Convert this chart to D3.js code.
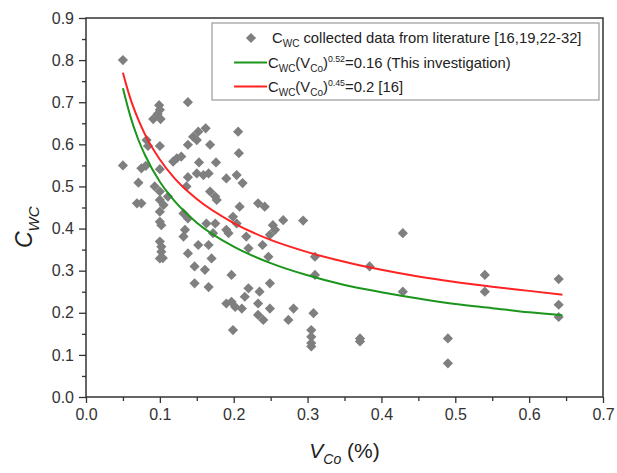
<!DOCTYPE html>
<html>
<head>
<meta charset="utf-8">
<script src="https://cdn.jsdelivr.net/npm/d3@7"></script>
<style>
  body { margin: 0; background: #fff; }
  svg { font-family: "Liberation Sans", Arial, sans-serif; }
</style>
</head>
<body>
<div id="chart"></div>
<script>
// scatter: V_Co (%) and C_WC
var vco = [0.050,0.050,0.099,0.100,0.097,0.091,0.101,0.138,0.206,0.207,0.162,0.152,0.145,0.150,0.168,0.138,
  0.082,0.084,0.100,0.123,0.129,0.118,0.153,0.176,0.075,0.081,0.100,0.150,0.159,0.166,0.138,0.190,0.204,
  0.212,0.071,0.093,0.100,0.111,0.136,0.168,0.175,0.069,0.075,0.100,0.105,0.208,0.233,0.100,0.177,0.242,
  0.199,0.132,0.138,0.163,0.175,0.100,0.102,0.134,0.132,0.100,0.102,0.102,0.100,0.104,0.138,0.152,0.166,
  0.170,0.147,0.161,0.147,0.166,0.197,0.172,0.190,0.204,0.217,0.220,0.190,0.197,0.202,0.211,0.199,0.220,
  0.215,0.233,0.233,0.193,0.253,0.256,0.267,0.294,0.249,0.239,0.247,0.249,0.235,0.249,0.281,0.308,0.240,
  0.274,0.305,0.305,0.305,0.305,0.371,0.371,0.310,0.310,0.384,0.429,0.429,0.540,0.540,0.640,0.640,0.640,
  0.490,0.490];
var cwc = [0.800,0.550,0.693,0.682,0.672,0.660,0.660,0.700,0.630,0.579,0.638,0.630,0.618,0.610,0.599,0.599,
  0.610,0.596,0.596,0.567,0.571,0.559,0.557,0.557,0.543,0.549,0.541,0.531,0.527,0.531,0.522,0.519,0.527,
  0.508,0.509,0.500,0.488,0.476,0.500,0.488,0.476,0.460,0.460,0.468,0.456,0.452,0.460,0.440,0.468,0.452,
  0.428,0.436,0.424,0.412,0.412,0.416,0.408,0.397,0.381,0.369,0.357,0.345,0.329,0.330,0.341,0.361,0.361,
  0.329,0.310,0.302,0.270,0.261,0.290,0.389,0.397,0.412,0.381,0.353,0.222,0.226,0.214,0.210,0.159,0.258,
  0.238,0.222,0.195,0.389,0.408,0.397,0.420,0.419,0.385,0.361,0.333,0.270,0.250,0.210,0.210,0.199,0.183,
  0.183,0.159,0.143,0.128,0.120,0.139,0.132,0.333,0.290,0.310,0.389,0.250,0.290,0.250,0.280,0.219,0.190,
  0.139,0.080];

// fitted curves, values
var curveV = [0.05,0.06,0.07,0.08,0.10,0.12,0.15,0.20,0.25,0.30,0.35,0.40,0.45,0.50,0.55,0.60,0.645];
var greenC = [0.733,0.667,0.615,0.574,0.511,0.465,0.414,0.357,0.318,0.289,0.266,0.249,0.234,0.221,0.211,0.201,0.194];
var redC   = [0.770,0.709,0.662,0.623,0.564,0.519,0.470,0.413,0.373,0.344,0.321,0.302,0.286,0.273,0.262,0.252,0.243];

var xMajor = [0,0.1,0.2,0.3,0.4,0.5,0.6,0.7];
var xMinor = [0.05,0.15,0.25,0.35,0.45,0.55,0.65];
var yMajor = [0,0.1,0.2,0.3,0.4,0.5,0.6,0.7,0.8,0.9];
var yMinor = [0.05,0.15,0.25,0.35,0.45,0.55,0.65,0.75,0.85];

var W = 617, H = 473;
var plotL = 86, plotR = 603, plotT = 18, plotB = 397;
var axisColor = "#333";

var svg = d3.select("#chart").append("svg")
    .attr("width", W)
    .attr("height", H);

var x = d3.scaleLinear().domain([0, 0.7]).range([plotL, plotR]);
var y = d3.scaleLinear().domain([0, 0.9]).range([plotB, plotT]);

// axes
var fmt = d3.format(".1f");
var gx = svg.append("g").attr("transform", "translate(0," + plotB + ")")
    .call(d3.axisBottom(x).tickValues(xMajor).tickSize(6).tickPadding(6).tickFormat(fmt));
var gxm = svg.append("g").attr("transform", "translate(0," + plotB + ")")
    .call(d3.axisBottom(x).tickValues(xMinor).tickSize(4).tickFormat(""));
var gy = svg.append("g").attr("transform", "translate(" + plotL + ",0)")
    .call(d3.axisLeft(y).tickValues(yMajor).tickSize(7).tickPadding(5).tickFormat(fmt));
var gym = svg.append("g").attr("transform", "translate(" + plotL + ",0)")
    .call(d3.axisLeft(y).tickValues(yMinor).tickSize(4).tickFormat(""));

[gx, gxm, gy, gym].forEach(function(g) {
    g.select(".domain").remove();
    g.selectAll("line").attr("stroke", axisColor).attr("stroke-width", 1.3);
    g.selectAll("text").attr("fill", "#333").style("font-size", "16px")
        .style("font-family", "'Liberation Sans', Arial, sans-serif");
});

// frame
svg.append("rect")
    .attr("x", plotL).attr("y", plotT)
    .attr("width", plotR - plotL).attr("height", plotB - plotT)
    .attr("fill", "none")
    .attr("stroke", axisColor)
    .attr("stroke-width", 1.5);

// points
var diamond = d3.symbol().type(d3.symbolSquare).size(52);
svg.append("g").selectAll("path")
    .data(vco)
    .enter()
    .append("path")
    .attr("d", diamond)
    .attr("transform", function(d, i) {
        return "translate(" + x(d) + "," + y(cwc[i]) + ") rotate(45)";
    })
    .attr("fill", "#7f7f7f");

// curves
var line = d3.line()
    .x(function(d) { return x(d[0]); })
    .y(function(d) { return y(d[1]); })
    .curve(d3.curveMonotoneX);

svg.append("path")
    .datum(d3.zip(curveV, greenC))
    .attr("d", line)
    .attr("fill", "none")
    .attr("stroke", "#1b951b")
    .attr("stroke-width", 2);

svg.append("path")
    .datum(d3.zip(curveV, redC))
    .attr("d", line)
    .attr("fill", "none")
    .attr("stroke", "#ff2222")
    .attr("stroke-width", 2);

// legend
var lg = svg.append("g");
lg.append("rect")
    .attr("x", 212).attr("y", 23)
    .attr("width", 387).attr("height", 77)
    .attr("fill", "#fff")
    .attr("stroke", "#9a9a9a")
    .attr("stroke-width", 1.2);

lg.append("path")
    .attr("d", diamond)
    .attr("transform", "translate(251,38) rotate(45)")
    .attr("fill", "#7f7f7f");
lg.append("line").attr("x1", 234).attr("x2", 267).attr("y1", 62.5).attr("y2", 62.5)
    .attr("stroke", "#1b951b").attr("stroke-width", 2);
lg.append("line").attr("x1", 234).attr("x2", 267).attr("y1", 86.5).attr("y2", 86.5)
    .attr("stroke", "#ff2222").attr("stroke-width", 2);

function richText(g, px, py, parts) {
    var t = g.append("text").attr("x", px).attr("y", py)
        .attr("fill", "#222").style("font-size", "14.8px");
    var shift = 0;
    parts.forEach(function(p) {
        var dy = 0, size = "14.8px";
        if (p[1] === "sub") { dy = 4 - shift; shift = 4; size = "10px"; }
        else if (p[1] === "sup") { dy = -6 - shift; shift = -6; size = "8.8px"; }
        else { dy = -shift; shift = 0; }
        t.append("tspan").attr("dy", dy).style("font-size", size).text(p[0]);
    });
    return t;
}

richText(lg, 272, 43, [["C"], ["WC", "sub"], [" collected data from literature [16,19,22-32]"]]);
richText(lg, 268, 68, [["C"], ["WC", "sub"], ["(V"], ["Co", "sub"], [")"], ["0.52", "sup"], ["=0.16 (This investigation)"]]);
richText(lg, 268, 92, [["C"], ["WC", "sub"], ["(V"], ["Co", "sub"], [")"], ["0.45", "sup"], ["=0.2 [16]"]]);

// axis titles
var xt = svg.append("text")
    .attr("x", (plotL + plotR) / 2)
    .attr("y", 458)
    .attr("text-anchor", "middle")
    .attr("fill", "#222")
    .style("font-size", "21px");
xt.append("tspan").style("font-style", "italic").text("V");
xt.append("tspan").attr("dy", 6).style("font-size", "14px").style("font-style", "italic").text("Co");
xt.append("tspan").attr("dy", -6).text(" (%)");

var yt = svg.append("text")
    .attr("transform", "translate(32,248) rotate(-90)")
    .attr("fill", "#222")
    .style("font-size", "23px");
yt.append("tspan").style("font-style", "italic").text("C");
yt.append("tspan").attr("dy", 7).style("font-size", "15px").style("font-style", "italic").text("WC");
</script>
</body>
</html>
